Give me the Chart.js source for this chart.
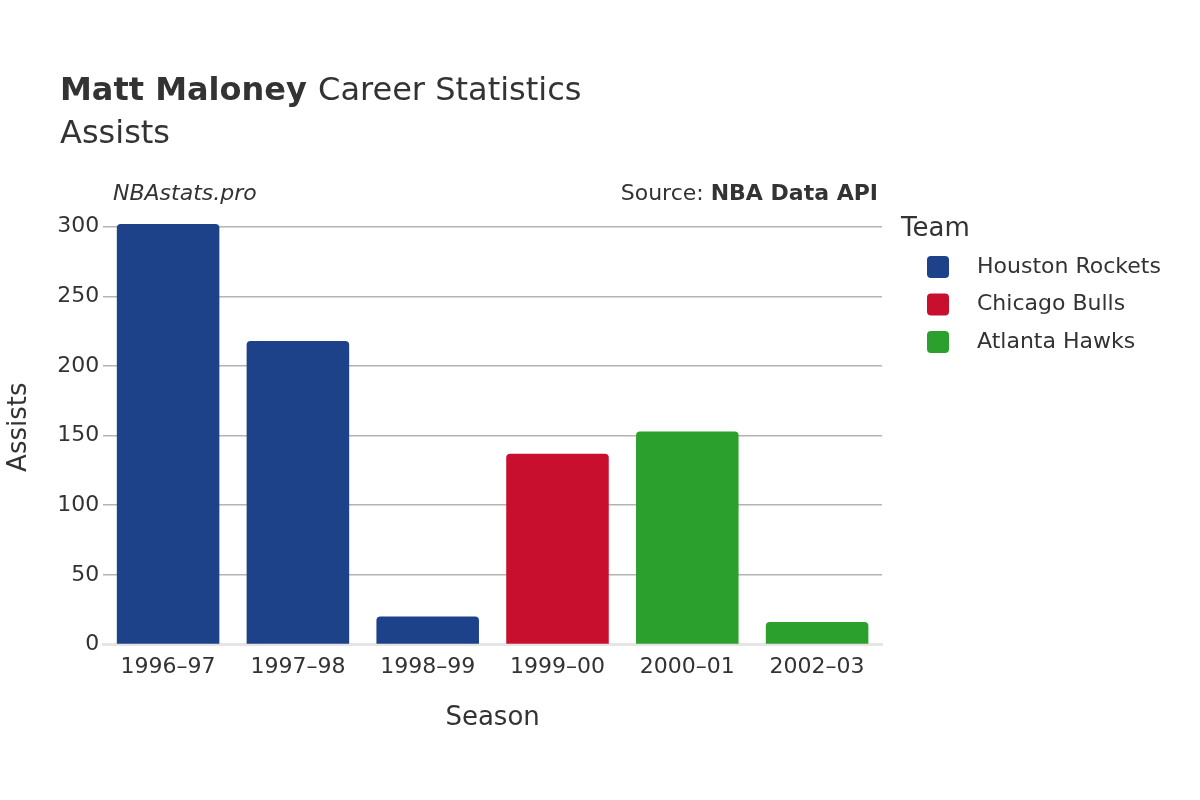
<!DOCTYPE html>
<html>
<head>
<meta charset="utf-8">
<script src="https://cdn.jsdelivr.net/npm/chart.js@4"></script>
<style>
  body { margin: 0; background: #fff; }
</style>
</head>
<body>
<canvas id="grafico" width="1200" height="800" style="width:1200px;height:800px"></canvas>
<script>
// ---- dados
const temporadas = ['1996–97', '1997–98', '1998–99', '1999–00', '2000–01', '2002–03'];
const assistencias = [302, 218, 20, 137, 153, 16];
const timePorTemporada = ['Houston Rockets', 'Houston Rockets', 'Houston Rockets', 'Chicago Bulls', 'Atlanta Hawks', 'Atlanta Hawks'];
const times = ['Houston Rockets', 'Chicago Bulls', 'Atlanta Hawks'];
const coresTimes = ['#1d4289', '#c8102e', '#2ca02c'];
const ticksY = [0, 50, 100, 150, 200, 250, 300];

const fonte = '"DejaVu Sans", sans-serif';
const corTexto = '#333333';

// textos de título, fonte e legenda
const textosPlugin = {
    id: 'textos',
    afterDraw(chart) {
        const c = chart.ctx;
        c.save();
        c.fillStyle = corTexto;
        c.textBaseline = 'alphabetic';
        c.textAlign = 'left';
        c.font = 'bold 32px ' + fonte;
        c.fillText('Matt Maloney', 60, 100);
        const w = c.measureText('Matt Maloney ').width;
        c.font = '32px ' + fonte;
        c.fillText('Career Statistics', 60 + w, 100);
        c.fillText('Assists', 60, 143);

        c.font = 'italic 22px ' + fonte;
        c.fillText('NBAstats.pro', 113, 200);
        c.textAlign = 'right';
        c.font = 'bold 22px ' + fonte;
        c.fillText('NBA Data API', 878, 200);
        const wb = c.measureText('NBA Data API').width;
        c.font = '22px ' + fonte;
        c.fillText('Source: ', 878 - wb, 200);

        // legenda
        c.textAlign = 'left';
        c.font = '26px ' + fonte;
        c.fillText('Team', 901, 236);
        c.font = '22px ' + fonte;
        c.textBaseline = 'middle';
        times.forEach((t, i) => {
            const y = 267 + i * 37.5;
            c.fillStyle = coresTimes[i];
            c.beginPath();
            c.roundRect(927, y - 11, 22, 22, 4);
            c.fill();
            c.fillStyle = corTexto;
            c.fillText(t, 977, y);
        });
        c.restore();
    }
};

const ctx = document.getElementById('grafico').getContext('2d');
new Chart(ctx, {
    type: 'bar',
    data: {
        labels: temporadas,
        datasets: [{
            label: 'Assists',
            data: assistencias,
            backgroundColor: timePorTemporada.map(t => coresTimes[times.indexOf(t)]),
            borderRadius: 4,
            borderSkipped: 'bottom',
            categoryPercentage: 1,
            barPercentage: 0.79
        }]
    },
    options: {
        responsive: false,
        devicePixelRatio: 1,
        animation: false,
        layout: { padding: { top: 210, right: 318, left: 0, bottom: 62 } },
        plugins: { legend: { display: false }, tooltip: { enabled: false } },
        scales: {
            x: {
                grid: { display: false },
                border: { color: '#e5e5e5', width: 3 },
                ticks: { color: corTexto, font: { family: fonte, size: 22 }, padding: 2 },
                title: { display: true, text: 'Season', color: corTexto, font: { family: fonte, size: 26 }, padding: { top: 20 } }
            },
            y: {
                min: 0,
                max: 312,
                afterBuildTicks(axis) { axis.ticks = ticksY.map(v => ({ value: v })); },
                grid: { color: '#b3b3b3', lineWidth: 1.5, drawTicks: false },
                border: { display: false },
                ticks: { color: corTexto, font: { family: fonte, size: 22 }, padding: 4 },
                title: { display: true, text: 'Assists', color: corTexto, font: { family: fonte, size: 26 }, padding: { bottom: 18 } }
            }
        }
    },
    plugins: [textosPlugin]
});
</script>
</body>
</html>
